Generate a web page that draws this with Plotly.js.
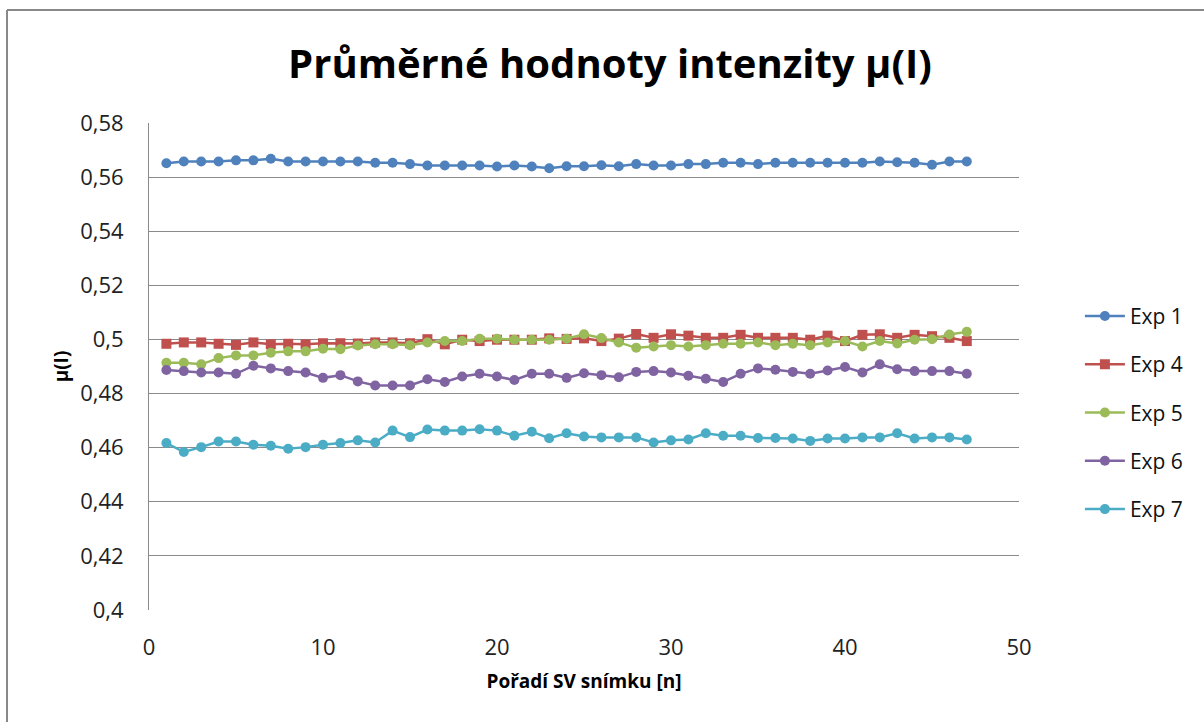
<!DOCTYPE html>
<html>
<head>
<meta charset="utf-8">
<script src="https://cdn.plot.ly/plotly-3.0.1.min.js"></script>
<style>html,body{margin:0;padding:0;background:#fff;}#chart{width:1204px;height:722px;}</style>
</head>
<body>
<div id="chart"></div>
<script>
const frames = [1,2,3,4,5,6,7,8,9,10,11,12,13,14,15,16,17,18,19,20,21,22,23,24,25,26,27,28,29,30,31,32,33,34,35,36,37,38,39,40,41,42,43,44,45,46,47];

const exp1 = [0.5651,0.5658,0.5658,0.5658,0.5662,0.5662,0.5668,0.5658,0.5658,0.5658,0.5658,0.5658,0.5653,0.5653,0.5648,0.5643,0.5643,0.5643,0.5643,0.5639,0.5643,0.5639,0.5633,0.5640,0.5640,0.5644,0.5640,0.5648,0.5643,0.5643,0.5648,0.5648,0.5653,0.5653,0.5648,0.5653,0.5653,0.5653,0.5653,0.5653,0.5653,0.5658,0.5655,0.5653,0.5646,0.5658,0.5658];
const exp4 = [0.4984,0.4989,0.4989,0.4984,0.4980,0.4989,0.4982,0.4984,0.4982,0.4986,0.4986,0.4985,0.4989,0.4989,0.4986,0.5001,0.4982,0.4999,0.4994,0.4999,0.4999,0.4999,0.5004,0.5002,0.5004,0.4994,0.5003,0.5020,0.5006,0.5019,0.5014,0.5006,0.5006,0.5017,0.5006,0.5006,0.5006,0.4999,0.5014,0.4994,0.5017,0.5019,0.5006,0.5017,0.5012,0.5006,0.4994];
const exp5 = [0.4914,0.4914,0.4908,0.4931,0.4941,0.4941,0.4951,0.4956,0.4956,0.4966,0.4964,0.4978,0.4982,0.4982,0.4979,0.4989,0.4994,0.4994,0.5003,0.5003,0.4999,0.4999,0.4999,0.5003,0.5019,0.5005,0.4989,0.4969,0.4974,0.4979,0.4974,0.4979,0.4984,0.4984,0.4989,0.4979,0.4984,0.4979,0.4989,0.4994,0.4974,0.4994,0.4985,0.4999,0.5001,0.5018,0.5028];
const exp6 = [0.4887,0.4883,0.4878,0.4878,0.4873,0.4903,0.4893,0.4883,0.4878,0.4858,0.4868,0.4845,0.4830,0.4830,0.4830,0.4853,0.4843,0.4863,0.4873,0.4863,0.4850,0.4873,0.4873,0.4858,0.4875,0.4868,0.4860,0.4880,0.4883,0.4878,0.4866,0.4855,0.4843,0.4873,0.4893,0.4888,0.4880,0.4873,0.4885,0.4898,0.4878,0.4908,0.4890,0.4883,0.4883,0.4883,0.4873];
const exp7 = [0.4617,0.4584,0.4602,0.4623,0.4623,0.4611,0.4607,0.4596,0.4602,0.4611,0.4617,0.4627,0.4619,0.4663,0.4639,0.4667,0.4663,0.4663,0.4668,0.4663,0.4644,0.4659,0.4635,0.4653,0.4641,0.4638,0.4638,0.4638,0.4619,0.4627,0.4630,0.4653,0.4644,0.4644,0.4636,0.4636,0.4634,0.4625,0.4634,0.4634,0.4638,0.4638,0.4653,0.4634,0.4638,0.4638,0.4630];

const seriesNames = ['Exp 1','Exp 4','Exp 5','Exp 6','Exp 7'];
const yTickVals = [0.4,0.42,0.44,0.46,0.48,0.5,0.52,0.54,0.56,0.58];
const yTickText = ['0,4','0,42','0,44','0,46','0,48','0,5','0,52','0,54','0,56','0,58'];
const xTickVals = [0,10,20,30,40,50];

const colors = ['#4F81BD','#C0504D','#9BBB59','#8064A2','#4BACC6'];
const symbols = ['circle','square','circle','circle','circle'];
const seriesData = [exp1, exp4, exp5, exp6, exp7];

const font = 'Open Sans, Lato, sans-serif';
const traces = seriesData.map((ys, i) => ({
  x: frames, y: ys, type: 'scatter', mode: 'lines+markers',
  name: seriesNames[i], legendgroup: 'g' + i,
  line: {color: colors[i], width: 2.5},
  marker: {color: colors[i], symbol: symbols[i], size: 10}
}));

const layout = {
  width: 1204, height: 722,
  paper_bgcolor: '#ffffff', plot_bgcolor: '#ffffff',
  margin: {l: 149, r: 185, t: 123, b: 112},
  separators: ', ',
  title: {text: '<b>Průměrné hodnoty intenzity μ(I)</b>', font: {family: font, size: 40, color: '#000'},
          x: 0.5066, xref: 'container', xanchor: 'center', y: 0.912, yref: 'container', yanchor: 'middle'},
  xaxis: {range: [0, 50], tickvals: xTickVals, showgrid: false, zeroline: false,
          showline: false, ticks: 'outside', ticklen: 18, tickcolor: 'rgba(0,0,0,0)',
          tickfont: {family: font, size: 22, color: '#222'},
          title: {text: '<b>Pořadí SV snímku [n]</b>', font: {family: font, size: 19, color: '#000'}, standoff: 14}},
  yaxis: {range: [0.4, 0.58], tickvals: yTickVals, ticktext: yTickText, showgrid: true,
          gridcolor: '#8a8a8a', gridwidth: 1, zeroline: false,
          showline: true, linecolor: '#8a8a8a', linewidth: 1,
          ticks: 'outside', ticklen: 20, tickcolor: 'rgba(0,0,0,0)',
          tickfont: {family: font, size: 22, color: '#222'},
          title: {text: '<b>μ(I)</b>', font: {family: font, size: 19, color: '#000'}, standoff: 6}},
  legend: {x: 1.07, xanchor: 'left', y: 0.405, yanchor: 'middle', bgcolor: 'rgba(0,0,0,0)',
           font: {family: font, size: 21, color: '#111'}, tracegroupgap: 18, itemwidth: 40},
  showlegend: true,
  shapes: [
    {type: 'line', xref: 'paper', yref: 'paper', x0: -0.1632, x1: -0.1632, y0: 1.232, y1: -0.24, line: {color: '#888', width: 2}},
    {type: 'line', xref: 'paper', yref: 'paper', x0: -0.1632, x1: 1.22, y0: 1.232, y1: 1.232, line: {color: '#888', width: 2}}
  ]
};

Plotly.newPlot('chart', traces, layout, {displayModeBar: false, staticPlot: true});
</script>
</body>
</html>
